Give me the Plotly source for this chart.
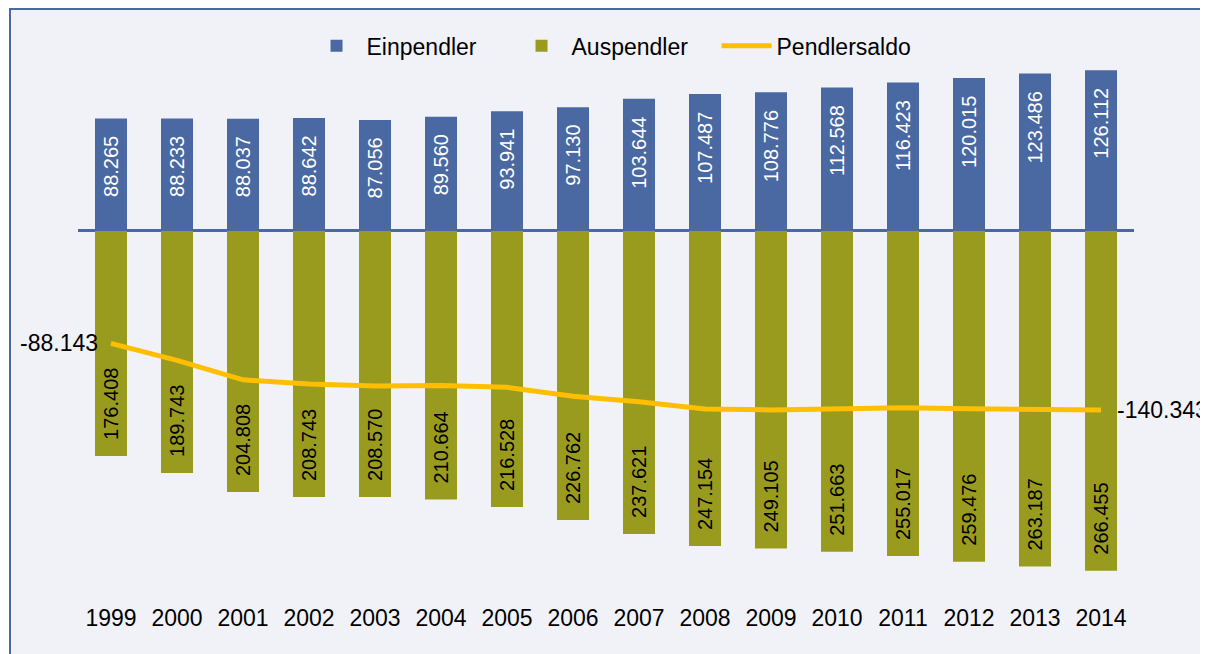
import plotly.graph_objects as go

years = ["1999", "2000", "2001", "2002", "2003", "2004", "2005", "2006",
         "2007", "2008", "2009", "2010", "2011", "2012", "2013", "2014"]
einpendler = [88265, 88233, 88037, 88642, 87056, 89560, 93941, 97130,
              103644, 107487, 108776, 112568, 116423, 120015, 123486, 126112]
auspendler = [176408, 189743, 204808, 208743, 208570, 210664, 216528, 226762,
              237621, 247154, 249105, 251663, 255017, 259476, 263187, 266455]
pendlersaldo = [-88143, -101510, -116771, -120101, -121514, -121104, -122587, -129632,
                -133977, -139667, -140329, -139095, -138594, -139461, -139701, -140343]

BLUE = "#4A68A1"
OLIVE = "#999B1F"
ORANGE = "#FFBE00"
FONT = "Liberation Sans, Arial, sans-serif"


def de(v):
    s = f"{abs(v):,}".replace(",", ".")
    return ("-" if v < 0 else "") + s


fig = go.Figure()
fig.add_trace(go.Bar(x=years, y=einpendler, name="Einpendler",
                     marker=dict(color=BLUE, line=dict(width=0))))
fig.add_trace(go.Bar(x=years, y=[-v for v in auspendler], name="Auspendler",
                     marker=dict(color=OLIVE, line=dict(width=0))))
fig.add_trace(go.Scatter(x=years, y=pendlersaldo, name="Pendlersaldo",
                         mode="lines", line=dict(color=ORANGE, width=5), cliponaxis=False))

annotations = []
for i, v in enumerate(einpendler):
    annotations.append(dict(x=i, y=v, xref="x", yref="y", text=de(v), showarrow=False,
                            textangle=-90, yanchor="top", yshift=-16,
                            font=dict(family=FONT, size=20, color="white")))
for i, v in enumerate(auspendler):
    annotations.append(dict(x=i, y=-v, xref="x", yref="y", text=de(v), showarrow=False,
                            textangle=-90, yanchor="bottom", yshift=14,
                            font=dict(family=FONT, size=20, color="black")))
last = len(pendlersaldo) - 1
annotations.append(dict(x=0, y=pendlersaldo[0], xref="x", yref="y",
                        text=de(pendlersaldo[0]), showarrow=False,
                        xanchor="right", xshift=-11,
                        font=dict(family=FONT, size=23, color="black")))
annotations.append(dict(x=last, y=pendlersaldo[last], xref="x", yref="y",
                        text=de(pendlersaldo[last]), showarrow=False,
                        xanchor="left", xshift=14,
                        font=dict(family=FONT, size=23, color="black")))

L, T, PW, PH = 70, 52, 1056, 542
fig.update_layout(
    width=1208, height=654,
    margin=dict(l=L, r=1208 - L - PW, t=T, b=654 - T - PH, autoexpand=False),
    paper_bgcolor="white",
    plot_bgcolor="rgba(0,0,0,0)",
    barmode="relative",
    bargap=0.515,
    font=dict(family=FONT, size=23, color="black"),
    showlegend=True,
    legend=dict(orientation="h", x=0.5076, xanchor="center", y=1.026, yanchor="middle",
                font=dict(family=FONT, size=23, color="black"),
                bgcolor="rgba(0,0,0,0)", itemwidth=50,
                entrywidth=140, entrywidthmode="pixels", traceorder="normal"),
    xaxis=dict(type="category", range=[-0.5, len(years) - 0.5], showgrid=False,
               showline=False, ticks="",
               tickfont=dict(family=FONT, size=23, color="black")),
    yaxis=dict(range=[-291000, 134100], showgrid=False, showticklabels=False,
               zeroline=True, zerolinecolor=BLUE, zerolinewidth=3, showline=False),
    annotations=annotations,
    shapes=[dict(type="rect", xref="paper", yref="paper",
                 x0=(2 - L) / PW, x1=1.3, y0=-0.3, y1=1 + (T - 1) / PH,
                 line=dict(color=BLUE, width=2), fillcolor="#F0F2F8", layer="below")],
)

fig.write_html("out.html")
